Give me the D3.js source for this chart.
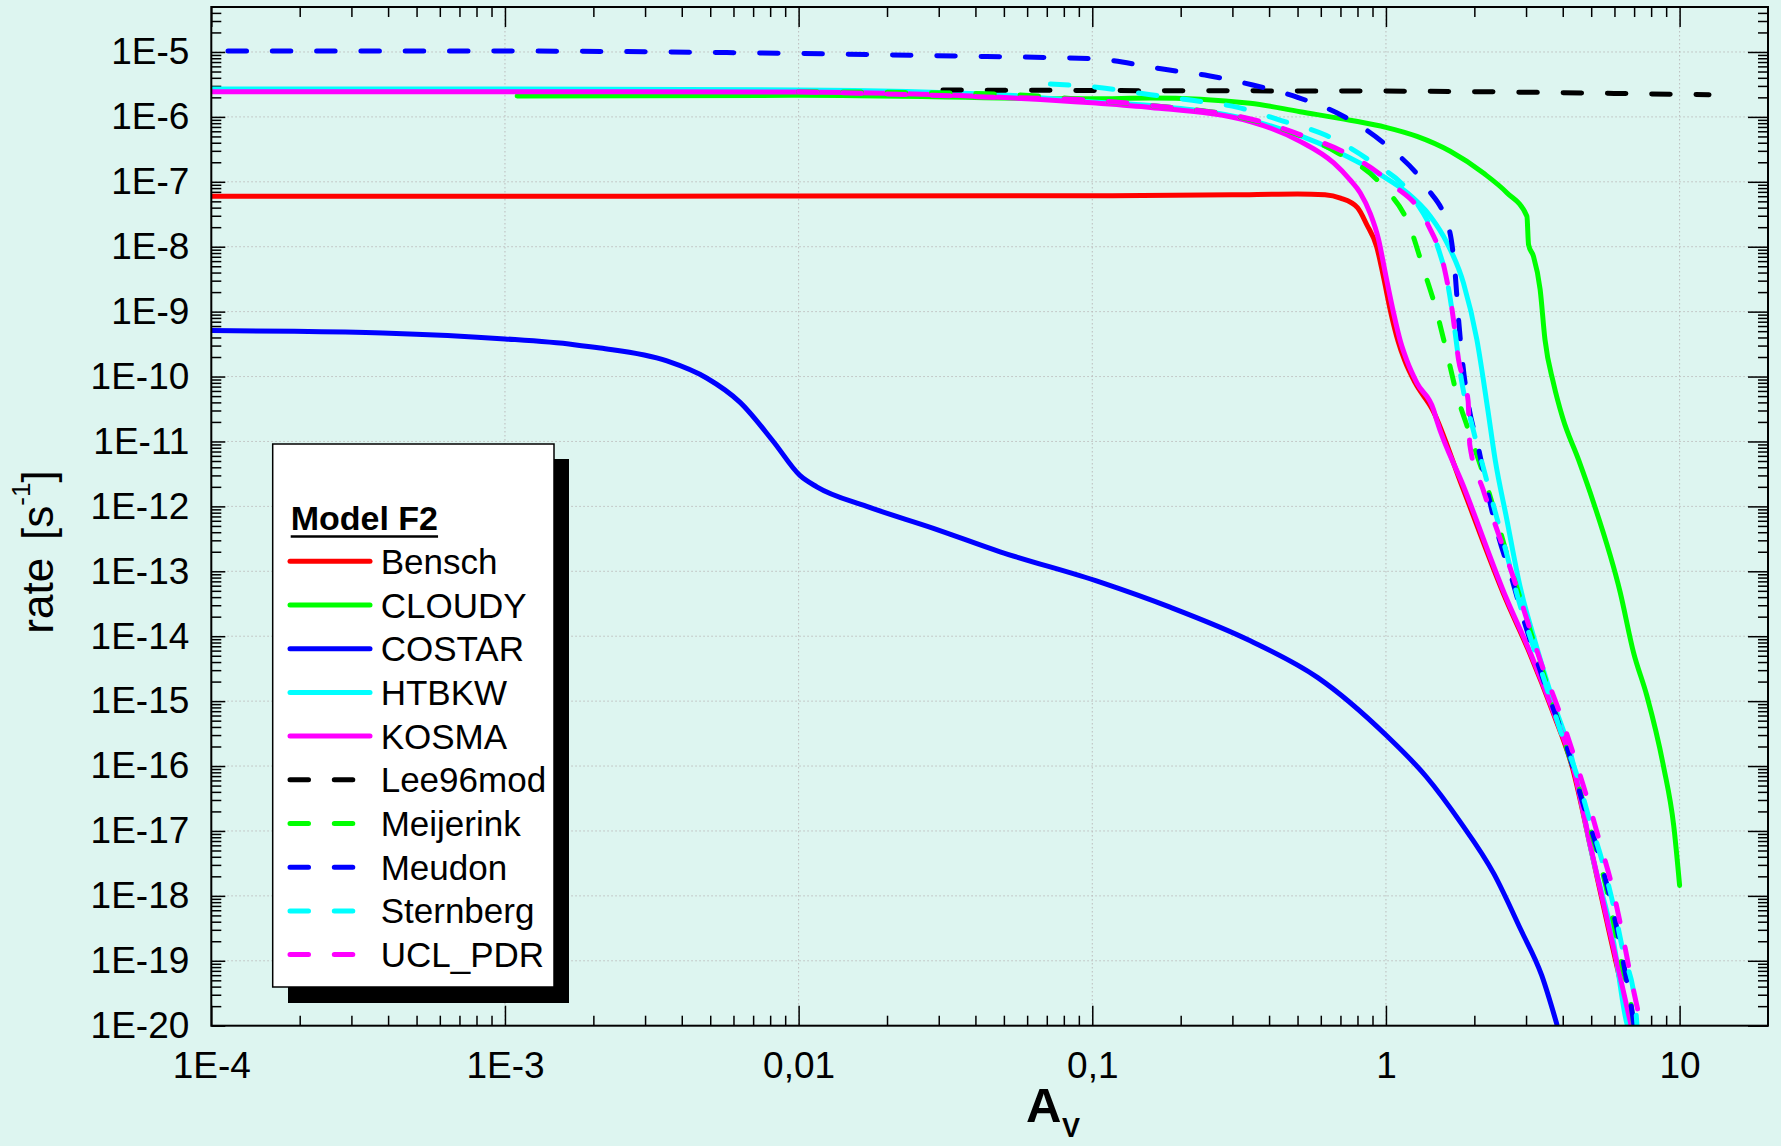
<!DOCTYPE html>
<html><head><meta charset="utf-8">
<script src="https://cdn.jsdelivr.net/npm/d3@7"></script>
<style>html,body{margin:0;padding:0;background:#ddf5f0;} svg{display:block;}</style>
</head><body><svg id="c" width="1781" height="1146"></svg>
<script>
// ---------- DATA ----------
const seriesNames = ["Bensch","CLOUDY","COSTAR","HTBKW","KOSMA","Lee96mod","Meijerink","Meudon","Sternberg","UCL_PDR"];
const avTickValues = [1e-4,1e-3,1e-2,1e-1,1,10];
const avTickLabels = ["1E-4","1E-3","0,01","0,1","1","10"];
const rateTickValues = [1e-5,1e-6,1e-7,1e-8,1e-9,1e-10,1e-11,1e-12,1e-13,1e-14,1e-15,1e-16,1e-17,1e-18,1e-19,1e-20];
const rateTickLabels = ["1E-5","1E-6","1E-7","1E-8","1E-9","1E-10","1E-11","1E-12","1E-13","1E-14","1E-15","1E-16","1E-17","1E-18","1E-19","1E-20"];

const bensch = [[1e-4,6.0e-8],[1e-3,6.0e-8],[0.01,6.05e-8],[0.1,6.1e-8],[0.3,6.3e-8],[0.5,6.5e-8],[0.62,6.3e-8],[0.70,5.6e-8],[0.80,4.0e-8],[0.86,2.2e-8],[0.93,1.0e-8],[0.98,3.5e-9],[1.04,9.5e-10],[1.10,3.5e-10],[1.16,1.74e-10],[1.26,7.9e-11],[1.44,3.1e-11],[1.82,2.0e-12],[2.56,3.7e-14],[3.08,5.6e-15],[3.70,6.8e-16],[4.33,8.9e-17],[5.0,5.0e-18],[5.85,2.0e-19],[6.8,1e-20]];
const cloudy = [[1.1e-3,2.1e-6],[0.01,2.15e-6],[0.1,1.9e-6],[0.158,1.95e-6],[0.345,1.62e-6],[0.51,1.2e-6],[0.755,8.9e-7],[1.0,6.9e-7],[1.276,5.0e-7],[1.656,2.95e-7],[2.153,1.35e-7],[2.58,6.8e-8],[3.02,2.95e-8],[3.06,1.07e-8],[3.18,7.1e-9],[3.35,2.2e-9],[3.48,3.7e-10],[3.72,7.9e-11],[4.0,2.3e-11],[4.53,5.2e-12],[5.09,1.15e-12],[6.28,4.7e-14],[6.97,5.6e-15],[7.74,1.2e-15],[8.81,1.0e-16],[9.55,1.2e-17],[10.0,1.45e-18]];
const costar = [[1e-4,5.1e-10],[1.92e-4,5.0e-10],[3.84e-4,4.7e-10],[1e-3,3.8e-10],[1.72e-3,3.1e-10],[2.11e-3,2.75e-10],[3.56e-3,1.74e-10],[4.86e-3,9.5e-11],[6.32e-3,4.0e-11],[8.2e-3,1.0e-11],[0.0101,3.0e-12],[0.01153,2.0e-12],[0.01706,1.0e-12],[0.02877,4.6e-13],[0.04853,2.0e-13],[0.1064,6.8e-14],[0.184,2.8e-14],[0.345,8.5e-15],[0.586,2.3e-15],[1.0,3.0e-16],[1.37,6.9e-17],[1.79,1.38e-17],[2.33,2.2e-18],[2.88,3.0e-19],[3.39,6.0e-20],[3.82,1.05e-20]];
const htbkw = [[1e-4,2.7e-6],[1e-3,2.68e-6],[0.01,2.6e-6],[0.0485,2.2e-6],[0.1,1.7e-6],[0.158,1.5e-6],[0.345,8.9e-7],[0.664,3.1e-7],[0.982,1.2e-7],[1.18,6.8e-8],[1.416,2.95e-8],[1.614,1.15e-8],[1.837,2.75e-9],[2.04,3.7e-10],[2.22,3.2e-11],[2.355,5.2e-12],[2.58,6.3e-13],[2.86,5.9e-14],[3.18,1.0e-14],[3.72,9.5e-16],[4.25,1.6e-16],[5.09,3.5e-18],[5.96,1.95e-19],[6.62,1.07e-20],[6.65,1e-20]];
const kosma = [[1e-4,2.45e-6],[1e-3,2.45e-6],[0.01,2.42e-6],[0.0485,2.0e-6],[0.1,1.65e-6],[0.158,1.4e-6],[0.345,8.5e-7],[0.51,4.2e-7],[0.664,1.95e-7],[0.755,1.07e-7],[0.817,6.8e-8],[0.883,3.3e-8],[0.944,1.29e-8],[1.0,3.5e-9],[1.062,9.5e-10],[1.12,3.5e-10],[1.18,1.74e-10],[1.276,7.9e-11],[1.452,3.1e-11],[1.49,2.1e-11],[1.837,2.04e-12],[2.58,3.7e-14],[3.10,5.6e-15],[3.72,6.8e-16],[4.36,8.9e-17],[5.01,5.0e-18],[5.89,2.0e-19],[6.84,1e-20]];
const lee96mod = [[0.031,2.6e-6],[0.1,2.55e-6],[0.3,2.52e-6],[1,2.5e-6],[3,2.4e-6],[6,2.3e-6],[12.6,2.2e-6]];
const meijerink = [[0.01,2.45e-6],[0.0485,2.24e-6],[0.1,1.8e-6],[0.158,1.5e-6],[0.3,1.05e-6],[0.472,5.9e-7],[0.689,2.75e-7],[0.968,8.9e-8],[1.21,1.95e-8],[1.343,4.5e-9],[1.472,1.2e-9],[1.603,2.6e-10],[1.746,5.2e-11],[1.91,1.5e-11],[2.153,3.0e-12],[2.388,6.3e-13],[2.649,1.2e-13],[2.944,2.6e-14],[3.266,5.6e-15],[3.631,1.2e-15],[4.027,2.6e-16],[4.53,5.0e-17],[4.97,1.07e-17],[5.51,2.0e-18],[5.96,3.9e-19],[6.37,8.5e-20],[6.89,1.6e-20],[6.97,1e-20]];
const meudon = [[1.14e-4,1.035e-5],[7.9e-4,1.035e-5],[0.0437,8.5e-6],[0.1,7.9e-6],[0.176,5.4e-6],[0.249,4.3e-6],[0.352,3.1e-6],[0.5,2.0e-6],[0.703,1.07e-6],[0.993,3.8e-7],[1.368,8.5e-8],[1.644,1.8e-8],[1.722,3.7e-9],[1.766,7.9e-10],[1.824,1.66e-10],[1.91,3.7e-11],[2.07,7.6e-12],[2.21,1.8e-12],[2.415,3.5e-13],[2.685,7.6e-14],[2.944,1.8e-14],[3.31,3.5e-15],[3.72,7.6e-16],[4.19,1.6e-16],[4.66,2.9e-17],[5.16,6.8e-18],[5.66,1.45e-18],[6.12,3.1e-19],[6.53,6.6e-20],[6.97,1.15e-20],[7.0,1e-20]];
const sternberg = [[0.072,3.2e-6],[0.1,2.9e-6],[0.158,2.2e-6],[0.219,1.8e-6],[0.313,1.4e-6],[0.443,8.7e-7],[0.625,5.2e-7],[0.883,2.1e-7],[1.233,5.8e-8],[1.493,1.07e-8],[1.633,2.3e-9],[1.718,5.0e-10],[1.803,9.5e-11],[1.963,1.8e-11],[2.138,4.2e-12],[2.328,1.0e-12],[2.57,1.95e-13],[2.825,3.7e-14],[3.155,7.6e-15],[3.548,1.5e-15],[3.945,3.3e-16],[4.5,6.6e-17],[4.9,1.66e-17],[5.445,3.5e-18],[5.96,6.9e-19],[6.44,1.3e-19],[7.06,2.2e-20],[7.16,1e-20]];
const uclPdr = [[0.01,2.45e-6],[0.0485,2.0e-6],[0.1,1.8e-6],[0.158,1.5e-6],[0.38,8.3e-7],[0.518,5.2e-7],[0.739,2.7e-7],[1.04,9.5e-8],[1.387,2.24e-8],[1.58,4.7e-9],[1.683,1.0e-9],[1.766,1.86e-10],[1.905,4.2e-11],[1.93,8.9e-12],[2.143,1.8e-12],[2.415,3.8e-13],[2.72,7.9e-14],[3.41,3.4e-15],[3.87,7.4e-16],[4.355,1.5e-16],[4.864,3.0e-17],[5.37,6.3e-18],[5.89,1.4e-18],[6.37,2.75e-19],[6.81,5.8e-20],[7.35,1.15e-20],[7.4,1e-20]];

const seriesData = [bensch,cloudy,costar,htbkw,kosma,lee96mod,meijerink,meudon,sternberg,uclPdr];

// ---------- STYLE ----------
const colors = ["#ff0000","#00ff00","#0000ff","#00ffff","#ff00ff","#000000","#00ff00","#0000ff","#00ffff","#ff00ff"];
const dashed = [false,false,false,false,false,true,true,true,true,true];
const DASH = "18.5,25.8";
const LW = 5;
const FONT = "'Liberation Sans', Arial, Helvetica, sans-serif";
const BG = "#ddf5f0";

const W = 1781, H = 1146;
const P = {left:211.3, right:1768, top:7, bottom:1025.7};

const x = d3.scaleLog().domain([1e-4, 20]).range([P.left, P.right]);
const y = d3.scaleLog().domain([1e-20, 4.93e-5]).range([P.bottom, P.top]);

const svg = d3.select("#c");
svg.append("rect").attr("width", W).attr("height", H).attr("fill", BG);

// grid
const grid = svg.append("g").attr("stroke", "#bcbcbc").attr("stroke-width", 1).attr("stroke-dasharray", "1.5,2.5");
grid.selectAll("line.gx").data(avTickValues.slice(1)).join("line")
  .attr("x1", d => x(d)).attr("x2", d => x(d)).attr("y1", P.top).attr("y2", P.bottom);
grid.selectAll("line.gy").data(rateTickValues.slice(0, -1)).join("line")
  .attr("y1", d => y(d)).attr("y2", d => y(d)).attr("x1", P.left).attr("x2", P.right);

// minor tick values
const avMinor = [];
for (let k = -4; k <= 0; k++) for (let m = 2; m <= 9; m++) avMinor.push(m * Math.pow(10, k));
const rateMinor = [];
for (let k = -20; k <= -5; k++) for (let m = 2; m <= 9; m++) { const v = m * Math.pow(10, k); if (v < 4.93e-5) rateMinor.push(v); }

function styleAxis(g) {
  g.select(".domain").remove();
  g.selectAll(".tick line").attr("stroke", "#000").attr("stroke-width", 1.5);
  g.selectAll(".tick text").attr("fill", "#000").style("font-family", FONT).style("font-size", "37px");
}

// bottom
svg.append("g").attr("transform", `translate(0,${P.bottom})`)
  .call(d3.axisBottom(x).tickValues(avTickValues).tickFormat((d, i) => avTickLabels[i]).tickSizeInner(-20).tickSizeOuter(0).tickPadding(26))
  .call(styleAxis);
svg.append("g").attr("transform", `translate(0,${P.bottom})`)
  .call(d3.axisBottom(x).tickValues(avMinor).tickFormat("").tickSizeInner(-10).tickSizeOuter(0)).call(styleAxis);
// top
svg.append("g").attr("transform", `translate(0,${P.top})`)
  .call(d3.axisTop(x).tickValues(avTickValues).tickFormat("").tickSizeInner(-20).tickSizeOuter(0)).call(styleAxis);
svg.append("g").attr("transform", `translate(0,${P.top})`)
  .call(d3.axisTop(x).tickValues(avMinor).tickFormat("").tickSizeInner(-10).tickSizeOuter(0)).call(styleAxis);
// left
svg.append("g").attr("transform", `translate(${P.left},0)`)
  .call(d3.axisLeft(y).tickValues(rateTickValues).tickFormat((d, i) => rateTickLabels[i]).tickSizeInner(-14).tickSizeOuter(0).tickPadding(22))
  .call(styleAxis);
svg.append("g").attr("transform", `translate(${P.left},0)`)
  .call(d3.axisLeft(y).tickValues(rateMinor).tickFormat("").tickSizeInner(-10).tickSizeOuter(0)).call(styleAxis);
// right
svg.append("g").attr("transform", `translate(${P.right},0)`)
  .call(d3.axisRight(y).tickValues(rateTickValues).tickFormat("").tickSizeInner(-20).tickSizeOuter(0)).call(styleAxis);
svg.append("g").attr("transform", `translate(${P.right},0)`)
  .call(d3.axisRight(y).tickValues(rateMinor).tickFormat("").tickSizeInner(-10).tickSizeOuter(0)).call(styleAxis);

// clip
svg.append("clipPath").attr("id", "clip").append("rect")
  .attr("x", P.left).attr("y", P.top).attr("width", P.right - P.left).attr("height", P.bottom - P.top);

const line = d3.line().x(d => x(d[0])).y(d => y(d[1])).curve(d3.curveMonotoneX);
const curves = svg.append("g").attr("clip-path", "url(#clip)");
seriesData.forEach((data, i) => {
  curves.append("path").datum(data).attr("d", line)
    .attr("fill", "none").attr("stroke", colors[i]).attr("stroke-width", LW)
    .attr("stroke-linecap", "round").attr("stroke-linejoin", "round")
    .attr("stroke-dasharray", dashed[i] ? DASH : null);
});

// frame
svg.append("rect").attr("x", P.left).attr("y", P.top).attr("width", P.right - P.left).attr("height", P.bottom - P.top)
  .attr("fill", "none").attr("stroke", "#000").attr("stroke-width", 2);

// axis titles
svg.append("text").attr("x", 1026).attr("y", 1122).attr("font-family", FONT).attr("font-weight", "bold").attr("font-size", 49).text("A");
svg.append("text").attr("x", 1062).attr("y", 1137).attr("font-family", FONT).attr("font-weight", "bold").attr("font-size", 27).text("V");

const yt = svg.append("text").attr("transform", "translate(53,552) rotate(-90)").attr("text-anchor", "middle")
  .attr("font-family", FONT).attr("font-size", 44);
yt.append("tspan").text("rate");
yt.append("tspan").attr("dx", 18).text("[s");
yt.append("tspan").attr("dy", -23).attr("font-size", 26).text("-1");
yt.append("tspan").attr("dy", 23).text("]");

// legend
const L = svg.append("g");
L.append("rect").attr("x", 288).attr("y", 459).attr("width", 281).attr("height", 544).attr("fill", "#000");
L.append("rect").attr("x", 272.7).attr("y", 444).attr("width", 281.3).attr("height", 543).attr("fill", "#fff").attr("stroke", "#000").attr("stroke-width", 1.5);
const lt = L.append("text").attr("x", 290.7).attr("y", 530).attr("font-family", FONT).attr("font-weight", "bold").attr("font-size", 34).text("Model F2");
const tw = lt.node().getComputedTextLength();
L.append("line").attr("x1", 290.7).attr("x2", 290.7 + tw).attr("y1", 536.5).attr("y2", 536.5).attr("stroke", "#000").attr("stroke-width", 2.5);
seriesNames.forEach((name, i) => {
  const ry = 561.3 + 43.7 * i;
  L.append("line").attr("x1", 290).attr("x2", 370).attr("y1", ry).attr("y2", ry)
    .attr("stroke", colors[i]).attr("stroke-width", LW).attr("stroke-linecap", "round")
    .attr("stroke-dasharray", dashed[i] ? DASH : null);
  L.append("text").attr("x", 380.7).attr("y", ry + 12.5).attr("font-family", FONT).attr("font-size", 35).text(name);
});
</script>
</body></html>
